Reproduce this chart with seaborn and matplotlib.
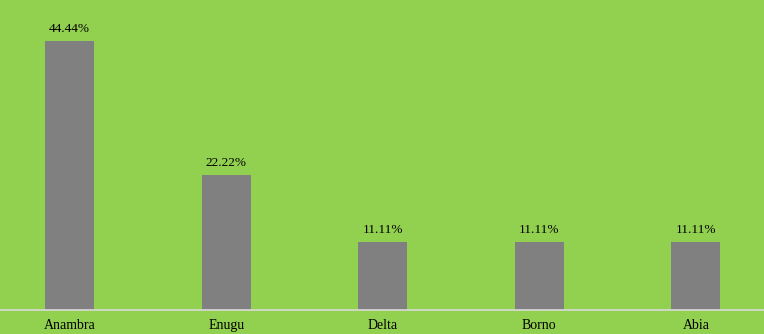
import matplotlib
matplotlib.use("Agg")
import matplotlib.pyplot as plt
import seaborn as sns
import pandas as pd

categories = ["Anambra", "Enugu", "Delta", "Borno", "Abia"]
values = [44.44, 22.22, 11.11, 11.11, 11.11]
labels = ["44.44%", "22.22%", "11.11%", "11.11%", "11.11%"]

bg = "#92D050"
bar_color = "#808080"

sns.set_theme(style="white")
plt.rcParams["font.family"] = ["Liberation Serif", "DejaVu Serif"]

fig = plt.figure(figsize=(7.64, 3.34), dpi=100, facecolor=bg)
ax = fig.add_axes([0, 24.5 / 334, 1, 309.5 / 334])
ax.set_facecolor(bg)

df = pd.DataFrame({"cat": categories, "val": values})
sns.barplot(data=df, x="cat", y="val", order=categories, color=bar_color,
            saturation=1, width=0.313, ax=ax, edgecolor="none")

ax.set_xlim(-69.5 / 156.6, (764 - 69.5) / 156.6)
ax.set_ylim(0, 309.5 / 6.04)

for i, (v, lab) in enumerate(zip(values, labels)):
    ax.annotate(lab, (i, v), xytext=(0, 4.5), textcoords="offset points",
                ha="center", va="bottom", fontsize=9.5, color="black")

for s in ["top", "right", "left"]:
    ax.spines[s].set_visible(False)
ax.spines["bottom"].set_color("#D9D9D9")
ax.spines["bottom"].set_linewidth(1.2)
ax.set_yticks([])
ax.set_xlabel("")
ax.set_ylabel("")
ax.tick_params(axis="x", length=0, pad=7, labelsize=10, colors="black")

fig.savefig("out.png", dpi=100, facecolor=bg)
